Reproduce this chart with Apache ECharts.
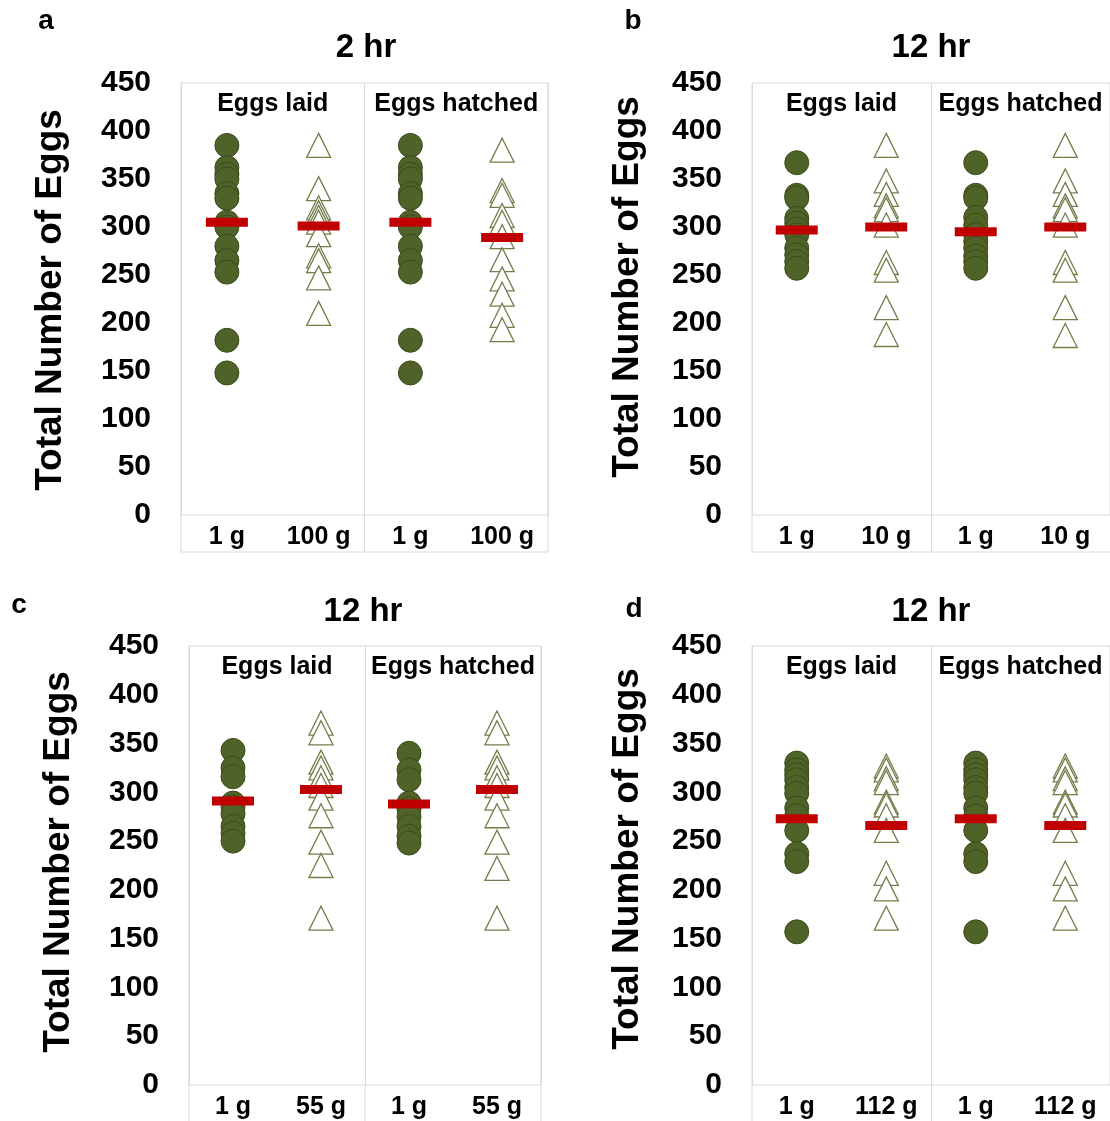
<!DOCTYPE html>
<html>
<head>
<meta charset="utf-8">
<script src="https://cdn.jsdelivr.net/npm/echarts@6/dist/echarts.min.js"></script>
<style>
  html, body { margin: 0; padding: 0; background: #fff; }
  #chart { width: 1110px; height: 1121px; }
</style>
</head>
<body>
<div id="chart"></div>
<script>
// ---------------- DATA ----------------
const panelLetters = ['a', 'b', 'c', 'd'];
const panelTitles = ['2 hr', '12 hr', '12 hr', '12 hr'];
const groupLabels = ['Eggs laid', 'Eggs hatched'];
const catsA = ['1 g', '100 g', '1 g', '100 g'];
const catsB = ['1 g', '10 g', '1 g', '10 g'];
const catsC = ['1 g', '55 g', '1 g', '55 g'];
const catsD = ['1 g', '112 g', '1 g', '112 g'];
const yTicks = { min: 0, max: 450, step: 50 };
const yAxisName = 'Total Number of Eggs';

// panel a (2 hr, 1 g vs 100 g)
const aLaid1g   = [385, 362, 355, 350, 335, 330, 305, 300, 280, 265, 253, 182, 148];
const aLaid100g = [385, 340, 320, 315, 310, 305, 292, 270, 265, 247, 210];
const aHatch1g  = [385, 362, 355, 350, 335, 330, 305, 300, 280, 265, 253, 182, 148];
const aHatch100g= [380, 338, 333, 312, 305, 290, 266, 246, 230, 208, 193];
const aMeans    = [305, 301, 305, 289];

// panel b (12 hr, 1 g vs 10 g)
const bLaid1g   = [367, 333, 330, 309, 304, 298, 292, 278, 271, 264, 257];
const bLaid10g  = [385, 348, 334, 322, 318, 302, 263, 255, 216, 188];
const bHatch1g  = [367, 333, 330, 310, 302, 292, 285, 278, 270, 264, 257];
const bHatch10g = [385, 348, 334, 322, 318, 302, 263, 255, 216, 187];
const bMeans    = [297, 300, 295, 300];

// panel c (12 hr, 1 g vs 55 g)
const cLaid1g   = [343, 325, 316, 289, 285, 278, 265, 258, 250];
const cLaid55g  = [371, 361, 331, 325, 315, 307, 294, 276, 249, 225, 171];
const cHatch1g  = [340, 323, 313, 289, 283, 275, 265, 255, 248];
const cHatch55g = [371, 361, 331, 325, 315, 307, 294, 276, 249, 222, 171];
const cMeans    = [291, 303, 288, 303];

// panel d (12 hr, 1 g vs 112 g)
const dLaid1g    = [330, 323, 318, 313, 305, 299, 284, 276, 261, 237, 229, 157];
const dLaid112g  = [327, 323, 314, 310, 290, 287, 276, 261, 217, 201, 171];
const dHatch1g   = [330, 323, 318, 313, 305, 299, 284, 276, 261, 237, 229, 157];
const dHatch112g = [327, 323, 314, 310, 290, 287, 276, 261, 217, 201, 171];
const dMeans     = [273, 266, 273, 266];

// ---------------- LAYOUT / STYLE ----------------
const FONT = "'Liberation Sans', Arial, Helvetica, sans-serif";
const layout = [
  { left: 181, top: 83,  width: 367, height: 432, titleX: 366, titleY: 48,  letterX: 46,  letterY: 21,  nameX: 51,  nameY: 300 },
  { left: 752, top: 83,  width: 359, height: 432, titleX: 931, titleY: 48,  letterX: 633, letterY: 21,  nameX: 628, nameY: 287 },
  { left: 189, top: 646, width: 352, height: 439, titleX: 363, titleY: 612, letterX: 19,  letterY: 605, nameX: 59,  nameY: 862 },
  { left: 752, top: 646, width: 359, height: 439, titleX: 931, titleY: 612, letterX: 634, letterY: 609, nameX: 628, nameY: 859 }
];
const rowH = 37;
const frameColor = '#d9d9d9';

const panels = [
  { cats: catsA, laid1: aLaid1g, laidX: aLaid100g, hatch1: aHatch1g, hatchX: aHatch100g, means: aMeans },
  { cats: catsB, laid1: bLaid1g, laidX: bLaid10g,  hatch1: bHatch1g, hatchX: bHatch10g,  means: bMeans },
  { cats: catsC, laid1: cLaid1g, laidX: cLaid55g,  hatch1: cHatch1g, hatchX: cHatch55g,  means: cMeans },
  { cats: catsD, laid1: dLaid1g, laidX: dLaid112g, hatch1: dHatch1g, hatchX: dHatch112g, means: dMeans }
];

const grid = [], xAxis = [], yAxis = [], series = [], title = [], graphic = [];

panels.forEach((p, i) => {
  const L = layout[i];
  grid.push({ left: L.left, top: L.top, width: L.width, height: L.height, show: true,
              borderColor: frameColor, borderWidth: 1, backgroundColor: 'transparent' });
  xAxis.push({
    gridIndex: i, type: 'category', data: p.cats, boundaryGap: true,
    axisLine: { show: false }, axisTick: { show: false }, splitLine: { show: false },
    axisLabel: { interval: 0, margin: 10, fontSize: 25, fontWeight: 'bold', color: '#000', fontFamily: FONT }
  });
  yAxis.push({
    gridIndex: i, type: 'value', min: yTicks.min, max: yTicks.max, interval: yTicks.step,
    axisLine: { show: false }, axisTick: { show: false }, splitLine: { show: false },
    axisLabel: { margin: 30, fontSize: 30, fontWeight: 'bold', color: '#000', fontFamily: FONT }
  });
  title.push({
    text: panelTitles[i], left: L.titleX, top: L.titleY - 17, textAlign: 'center', padding: 0,
    textStyle: { fontSize: 33, fontWeight: 'bold', color: '#000', fontFamily: FONT }
  });
  // panel frame row below axis
  const x0 = L.left, x1 = L.left + L.width, xm = L.left + L.width / 2;
  const y0 = L.top + L.height, y1 = y0 + rowH;
  [[x0, y0, x0, y1], [xm, y0, xm, y1], [x1, y0, x1, y1], [x0, y1, x1, y1]].forEach(s => {
    graphic.push({ type: 'line', silent: true, shape: { x1: s[0], y1: s[1], x2: s[2], y2: s[3] },
                   style: { stroke: frameColor, lineWidth: 1 } });
  });
  graphic.push({ type: 'text', x: L.letterX, y: L.letterY, silent: true,
    style: { text: panelLetters[i], fontSize: 28, fontWeight: 'bold', fontFamily: FONT, fill: '#000',
             align: 'center', verticalAlign: 'middle' } });
  graphic.push({ type: 'text', x: L.nameX, y: L.nameY, rotation: Math.PI / 2, silent: true,
    style: { text: yAxisName, fontSize: 37, fontWeight: 'bold', fontFamily: FONT, fill: '#000',
             align: 'center', verticalAlign: 'middle' } });

  series.push({
    type: 'scatter', xAxisIndex: i, yAxisIndex: i, silent: true, z: 2,
    symbol: 'circle', symbolSize: 24,
    itemStyle: { color: '#4f6228', borderColor: '#3a4b1a', borderWidth: 1, opacity: 1 },
    data: p.laid1.map(v => [0, v]).concat(p.hatch1.map(v => [2, v]))
  });
  series.push({
    type: 'scatter', xAxisIndex: i, yAxisIndex: i, silent: true, z: 3,
    symbol: 'triangle', symbolSize: [24, 24],
    itemStyle: { color: '#ffffff', borderColor: '#737d4a', borderWidth: 1.3, opacity: 1 },
    data: p.laidX.map(v => [1, v]).concat(p.hatchX.map(v => [3, v]))
  });
  series.push({
    type: 'scatter', xAxisIndex: i, yAxisIndex: i, silent: true, z: 4,
    symbol: 'rect', symbolSize: [42, 9],
    itemStyle: { color: '#c00000', opacity: 1 },
    data: p.means.map((v, j) => [j, v])
  });
});

// top group-label axes (Eggs laid / Eggs hatched) with divider split line
panels.forEach((p, i) => {
  xAxis.push({
    gridIndex: i, type: 'category', data: groupLabels, position: 'top', boundaryGap: true,
    axisLine: { show: false }, axisTick: { show: false },
    splitLine: { show: true, interval: 0, lineStyle: { color: frameColor, width: 1 } },
    axisLabel: { inside: true, interval: 0, margin: 9, fontSize: 25, fontWeight: 'bold', color: '#000', fontFamily: FONT }
  });
});

const chart = echarts.init(document.getElementById('chart'), null, { renderer: 'canvas' });
chart.setOption({
  animation: false,
  backgroundColor: '#ffffff',
  textStyle: { fontFamily: FONT },
  title, grid, xAxis, yAxis, series, graphic
});
</script>
</body>
</html>
